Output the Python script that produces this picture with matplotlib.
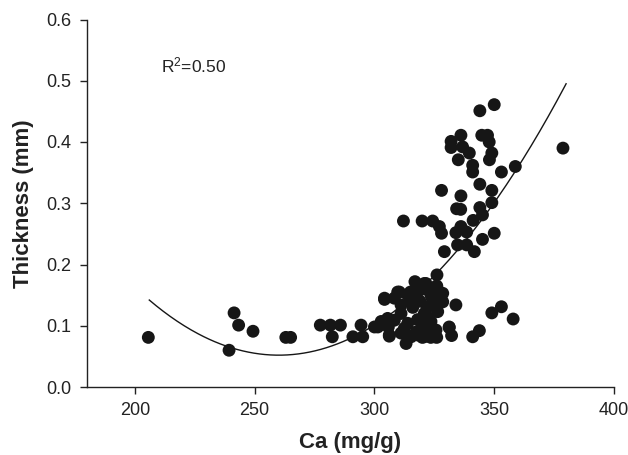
import numpy as np
import matplotlib
matplotlib.use("Agg")
import matplotlib.pyplot as plt

plt.rcParams['font.family'] = ['Liberation Sans', 'DejaVu Sans']
plt.rcParams['mathtext.default'] = 'regular'

# Ca (mg/g)
ca = [
    205.6, 239.3, 241.4, 243.3, 249.3, 263.0, 265.0,
    277.4, 281.6, 285.8, 282.4, 291.0, 295.1, 294.4, 300.0, 304.2, 306.2,
    326.1, 316.9, 320.8, 326.0, 328.5, 310.4, 304.2, 308.3, 313.9, 318.0,
    323.6, 328.5, 334.0, 311.1, 315.0, 324.3, 311.1, 320.8, 326.4, 305.5,
    302.8, 308.3, 313.9, 323.6, 301.4, 305.8, 312.5, 317.4, 325.7, 331.2,
    306.2, 311.1, 315.3, 320.8, 325.0, 332.2, 313.2, 341.0, 321.5, 309.7,
    331.2, 343.8, 349.0, 353.0, 357.9, 320.0, 323.5, 326.0,
    326.0, 329.2, 341.7,
    316.0, 319.0, 322.0, 318.0, 322.0, 315.0, 321.0, 324.0, 317.0, 320.0,
    323.0, 318.0,
    344.0, 350.0, 336.1, 332.0, 332.0, 336.8, 339.6, 335.0, 341.0, 341.0,
    344.8, 347.2, 347.9, 349.0, 348.0, 353.0, 358.8, 378.7,
    344.0, 349.0, 328.0, 336.1, 334.3, 336.0, 344.0, 345.1, 349.0,
    312.1, 319.9, 324.3, 327.1, 328.0, 334.0, 336.1, 338.5, 341.2, 350.0,
    345.1, 334.7, 338.5,
]
# Thickness (mm)
thickness = [
    0.081, 0.060, 0.121, 0.101, 0.091, 0.081, 0.081,
    0.101, 0.101, 0.101, 0.082, 0.082, 0.082, 0.101, 0.098, 0.143, 0.083,
    0.183, 0.172, 0.169, 0.164, 0.153, 0.155, 0.145, 0.145, 0.150, 0.155,
    0.150, 0.139, 0.134, 0.134, 0.140, 0.134, 0.120, 0.120, 0.123, 0.112,
    0.107, 0.109, 0.104, 0.107, 0.098, 0.098, 0.096, 0.090, 0.093, 0.098,
    0.085, 0.088, 0.082, 0.082, 0.082, 0.084, 0.071, 0.082, 0.169, 0.155,
    0.097, 0.092, 0.121, 0.131, 0.111, 0.081, 0.081, 0.081,
    0.165, 0.221, 0.221,
    0.130, 0.140, 0.130, 0.110, 0.115, 0.155, 0.160, 0.145, 0.145, 0.100,
    0.095, 0.085,
    0.451, 0.461, 0.411, 0.401, 0.391, 0.392, 0.382, 0.371, 0.362, 0.351,
    0.411, 0.411, 0.400, 0.382, 0.371, 0.351, 0.360, 0.390,
    0.331, 0.321, 0.321, 0.312, 0.291, 0.290, 0.293, 0.281, 0.301,
    0.271, 0.271, 0.271, 0.262, 0.251, 0.252, 0.262, 0.253, 0.272, 0.251,
    0.241, 0.232, 0.232,
]

# quadratic fit: y = a*(x-x0)^2 + b*(x-x0) + c
fit_x0 = 261.0
fit_a, fit_b, fit_c = 3.08e-5, 5.8e-5, 0.052
fit_range = (206.0, 380.0)

x_ticks = [200, 250, 300, 350, 400]
y_ticks = [0.0, 0.1, 0.2, 0.3, 0.4, 0.5, 0.6]

fig = plt.figure(figsize=(6.28, 4.55), dpi=100)
ax = fig.add_axes([87/628, 1-387/455, (614-87)/628, (387-19.5)/455])

ax.scatter(ca, thickness, s=86, color='#161616', edgecolors='none', zorder=3)

xf = np.linspace(fit_range[0], fit_range[1], 300)
u = xf - fit_x0
yf = fit_a*u**2 + fit_b*u + fit_c
ax.plot(xf, yf, color='#161616', lw=1.0, zorder=2)

ax.set_xlim(180, 400)
ax.set_ylim(0, 0.6)
ax.set_xticks(x_ticks)
ax.set_yticks(y_ticks)
ax.set_yticklabels([f"{v:.1f}" for v in y_ticks])
for s in ['top', 'right']:
    ax.spines[s].set_visible(False)
for s in ['left', 'bottom']:
    ax.spines[s].set_color('#222222')
    ax.spines[s].set_linewidth(1.0)
ax.tick_params(direction='out', length=5, width=1, color='#222222',
               labelsize=13, labelcolor='#222222', pad=6)

ax.set_xlabel('Ca (mg/g)', fontsize=16, fontweight='bold', color='#222222', labelpad=9)
ax.set_ylabel('Thickness (mm)', fontsize=16, fontweight='bold', color='#222222', labelpad=9)

ax.text(211, 0.514, 'R$^2$=0.50', fontsize=12.5, color='#222222', ha='left', va='baseline')

fig.savefig('out.png', dpi=100)
